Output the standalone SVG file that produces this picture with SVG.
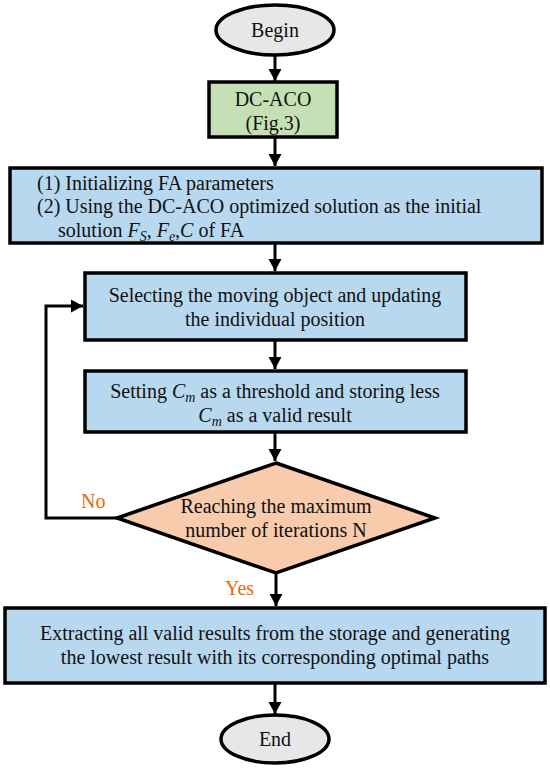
<svg xmlns="http://www.w3.org/2000/svg" width="550" height="772" viewBox="0 0 550 772">
<defs>
<marker id="ah" markerWidth="14" markerHeight="14" refX="12" refY="7" orient="auto" markerUnits="userSpaceOnUse">
<path d="M0,0.5 L12,7 L0,13.5 Z" fill="#000"/>
</marker>
<style>
.t{font-family:"Liberation Serif","Times New Roman",serif;font-size:20px;fill:#111}
.c{text-anchor:middle}
.m{font-style:italic}
.lbl{font-family:"Liberation Serif","Times New Roman",serif;font-size:20px;fill:#E46C0A}
.box{fill:#B8D8F0;stroke:#000;stroke-width:3.5}
.term{fill:#E7E7E7;stroke:#000;stroke-width:3.5}
.conn{fill:none;stroke:#000;stroke-width:3}
</style>
</defs>
<rect width="550" height="772" fill="#fff"/>
<g id="connectors">
<line class="conn" x1="275" y1="55" x2="275" y2="81" marker-end="url(#ah)"/>
<line class="conn" x1="275" y1="138" x2="275" y2="166" marker-end="url(#ah)"/>
<line class="conn" x1="275" y1="244" x2="275" y2="271" marker-end="url(#ah)"/>
<line class="conn" x1="275" y1="340" x2="275" y2="369" marker-end="url(#ah)"/>
<line class="conn" x1="275" y1="432" x2="275" y2="461" marker-end="url(#ah)"/>
<line class="conn" x1="276" y1="573" x2="276" y2="606" marker-end="url(#ah)"/>
<line class="conn" x1="275" y1="684" x2="275" y2="714" marker-end="url(#ah)"/>
<polyline class="conn" points="117,518 46,518 46,306 83,306" marker-end="url(#ah)"/>
<text class="lbl" x="81" y="508">No</text>
<text class="lbl" x="225" y="595">Yes</text>
</g>
<g id="begin">
<ellipse class="term" cx="275" cy="30" rx="59" ry="25"/>
<text class="t c" x="275" y="37">Begin</text>
</g>
<g id="dcaco">
<rect x="209" y="82" width="128" height="55" fill="#C5E0B4" stroke="#000" stroke-width="3.5"/>
<text class="t c" x="273" y="106">DC-ACO</text>
<text class="t c" x="273" y="130">(Fig.3)</text>
</g>
<g id="init">
<rect class="box" x="10" y="168" width="532" height="75"/>
<text class="t" x="37" y="190">(1) Initializing FA parameters</text>
<text class="t" x="37" y="213">(2) Using the DC-ACO optimized solution as the initial</text>
<text class="t" x="58" y="237">solution <tspan class="m">F</tspan><tspan class="m" font-size="14" dy="4">S</tspan><tspan dy="-4">, </tspan><tspan class="m">F</tspan><tspan class="m" font-size="14" dy="4">e</tspan><tspan dy="-4">,</tspan><tspan class="m">C</tspan> of FA</text>
</g>
<g id="select">
<rect class="box" x="85" y="273" width="381" height="67"/>
<text class="t c" x="275" y="302">Selecting the moving object and updating</text>
<text class="t c" x="275" y="326">the individual position</text>
</g>
<g id="setting">
<rect class="box" x="85" y="371" width="381" height="61"/>
<text class="t c" x="275" y="398">Setting <tspan class="m">C</tspan><tspan class="m" font-size="14" dy="4">m</tspan><tspan dy="-4"> as a threshold and storing less</tspan></text>
<text class="t c" x="275" y="422"><tspan class="m">C</tspan><tspan class="m" font-size="14" dy="4">m</tspan><tspan dy="-4"> as a valid result</tspan></text>
</g>
<g id="decision">
<polygon points="276,463 435,518 276,573 117,518" fill="#F8CBAD" stroke="#000" stroke-width="3.5" stroke-linejoin="miter"/>
<text class="t c" x="276" y="513">Reaching the maximum</text>
<text class="t c" x="276" y="537">number of iterations N</text>
</g>
<g id="extract">
<rect class="box" x="5" y="608" width="540" height="75"/>
<text class="t c" x="275" y="640">Extracting all valid results from the storage and generating</text>
<text class="t c" x="275" y="664">the lowest result with its corresponding optimal paths</text>
</g>
<g id="end">
<ellipse class="term" cx="275" cy="739" rx="54" ry="24"/>
<text class="t c" x="275" y="746">End</text>
</g>
</svg>
